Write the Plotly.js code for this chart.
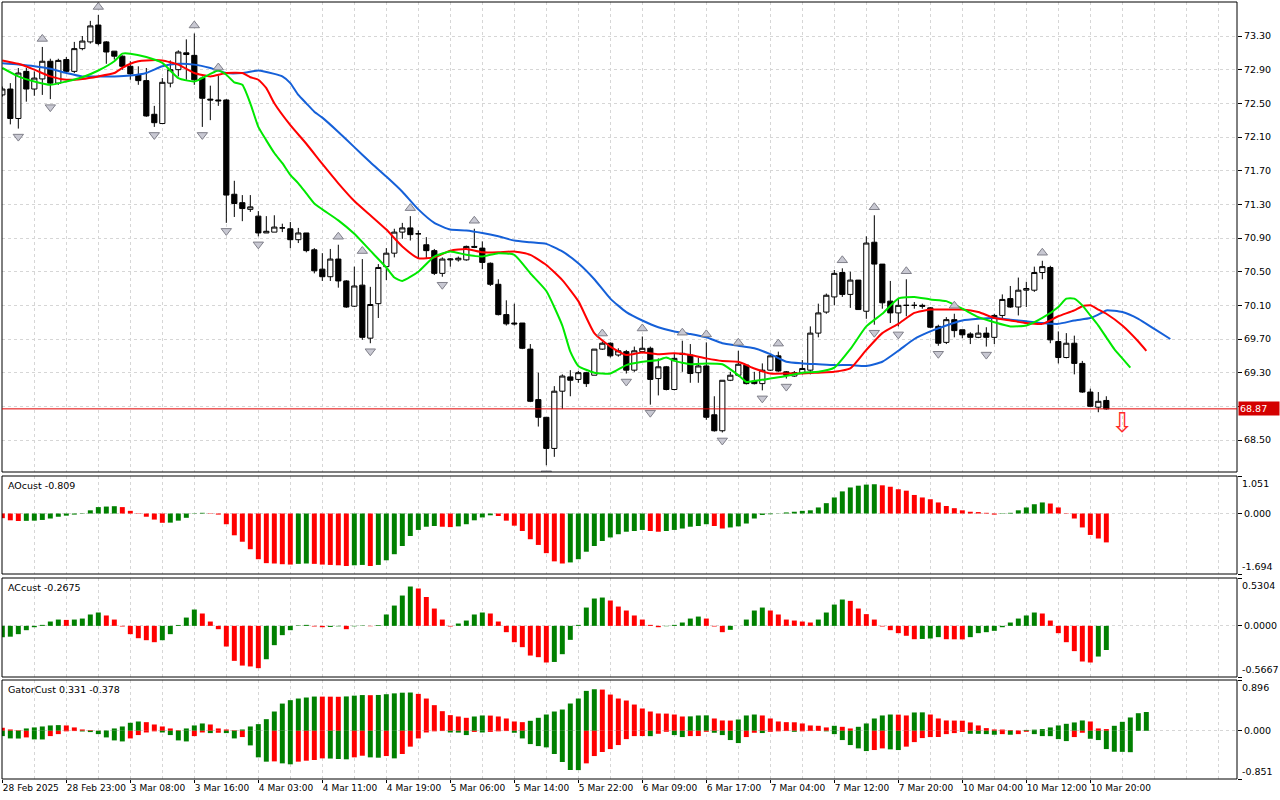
<!DOCTYPE html>
<html>
<head>
<meta charset="utf-8">
<title>Alligator / AO / AC / Gator</title>
<script src="https://cdn.plot.ly/plotly-3.0.1.min.js"></script>
<style>
  html, body { margin: 0; padding: 0; background: #fff; }
  #chart { width: 1280px; height: 800px; }
</style>
</head>
<body>
<div id="chart"></div>
<script>
// hourly bars, bar 0 is the first (half hidden) candle on 28 Feb 2025
const openP = [72.60,72.67,72.32,72.88,72.67,72.79,73.00,72.74,73.02,72.88,
  73.15,73.23,73.43,73.23,73.12,73.06,72.94,72.84,72.77,72.37,
  72.26,72.74,72.90,73.10,73.07,72.80,72.55,72.54,72.54,71.42,
  71.32,71.24,71.16,70.96,70.97,71.02,71.01,70.88,70.96,70.76,
  70.53,70.44,70.65,70.39,70.09,70.34,69.71,70.12,70.56,70.72,
  70.97,71.02,70.95,70.82,70.75,70.48,70.64,70.64,70.64,70.80,
  70.78,70.60,70.35,69.99,69.89,69.89,69.58,68.98,68.77,68.40,
  69.08,69.25,69.22,69.30,69.27,69.58,69.65,69.51,69.55,69.33,
  69.55,69.59,69.23,69.37,69.10,69.53,69.51,69.30,69.38,68.80,
  68.61,69.21,69.27,69.39,69.20,69.17,69.33,69.50,69.31,69.26,
  69.30,69.33,69.77,70.02,70.20,70.49,70.23,70.40,70.03,70.85,
  70.59,70.15,70.01,70.10,70.10,70.10,70.07,69.85,69.66,69.93,
  69.81,69.76,69.72,69.77,69.72,69.98,70.18,70.08,70.28,70.28,
  70.49,70.55,69.67,69.48,69.65,69.41,69.07,68.89,68.97];
const highP = [72.70,72.74,72.92,72.92,72.88,73.17,73.03,73.03,73.05,73.23,
  73.30,73.48,73.55,73.24,73.12,73.07,73.00,72.94,72.92,72.47,
  72.80,73.01,73.13,73.26,73.33,72.82,72.71,72.83,72.55,71.58,
  71.41,71.41,71.22,71.16,71.17,71.07,71.09,71.02,70.96,70.78,
  70.72,70.77,70.82,70.40,70.56,70.65,70.32,70.59,70.78,71.01,
  71.08,71.16,70.99,70.91,70.77,70.67,70.66,70.68,70.81,71.01,
  70.86,70.61,70.41,70.16,70.12,69.89,69.64,69.30,68.77,69.14,
  69.28,69.33,69.32,69.31,69.58,69.67,69.66,69.59,69.57,69.61,
  69.73,69.61,69.47,69.38,69.53,69.68,69.64,69.48,69.66,69.02,
  69.21,69.31,69.56,69.40,69.31,69.41,69.51,69.55,69.32,69.32,
  69.45,69.85,70.12,70.24,70.52,70.54,70.50,70.40,70.92,71.17,
  70.59,70.39,70.19,70.41,70.14,70.12,70.08,69.87,69.96,70.00,
  69.81,69.78,69.87,69.84,70.00,70.23,70.33,70.43,70.38,70.56,
  70.63,70.57,69.79,69.77,69.74,69.44,69.11,69.07,69.02];
const lowP = [72.58,72.25,72.20,72.52,72.59,72.60,72.55,72.72,72.86,72.86,
  73.13,73.21,73.19,72.97,73.02,72.90,72.78,72.72,72.34,72.22,
  72.26,72.69,72.82,72.78,72.72,72.22,72.30,72.47,71.08,71.15,
  71.10,71.21,70.92,70.96,70.97,70.97,70.78,70.84,70.73,70.48,
  70.39,70.39,70.31,70.07,70.08,69.69,69.65,69.95,70.40,70.67,
  70.89,70.87,70.65,70.65,70.46,70.44,70.56,70.62,70.63,70.78,
  70.53,70.33,69.98,69.86,69.86,69.58,68.95,68.66,68.20,68.30,
  68.87,69.02,69.18,69.13,69.27,69.57,69.48,69.49,69.29,69.31,
  69.53,68.92,69.03,69.09,69.09,69.31,69.18,69.18,68.74,68.60,
  68.59,69.20,69.25,69.16,69.16,69.09,69.32,69.31,69.23,69.25,
  69.28,69.28,69.72,70.00,70.10,70.20,70.07,70.05,69.94,69.87,
  70.06,69.89,69.85,69.97,70.06,70.06,69.83,69.62,69.64,69.72,
  69.71,69.64,69.71,69.61,69.64,69.93,70.07,69.98,70.08,70.26,
  70.41,69.65,69.41,69.47,69.28,69.06,68.89,68.83,68.86];
const closeP = [72.67,72.32,72.86,72.67,72.80,73.00,72.74,73.01,72.88,73.15,
  73.24,73.42,73.21,73.11,73.06,72.94,72.85,72.77,72.35,72.27,
  72.75,72.90,73.11,73.08,72.78,72.56,72.54,72.53,71.41,71.31,
  71.25,71.27,70.96,70.98,71.03,71.02,70.88,70.96,70.75,70.51,
  70.44,70.65,70.39,70.08,70.33,69.72,70.11,70.55,70.72,70.97,
  71.02,70.94,70.95,70.75,70.48,70.65,70.65,70.66,70.80,70.79,
  70.61,70.35,69.99,69.88,69.88,69.59,68.96,68.77,68.40,69.08,
  69.26,69.21,69.30,69.17,69.58,69.65,69.50,69.56,69.33,69.56,
  69.59,69.22,69.37,69.10,69.47,69.52,69.29,69.38,68.77,68.61,
  69.21,69.27,69.40,69.17,69.17,69.33,69.50,69.32,69.27,69.30,
  69.35,69.77,70.01,70.22,70.48,70.23,70.40,70.05,70.84,70.59,
  70.13,70.01,70.10,70.10,70.10,70.09,69.84,69.65,69.93,69.80,
  69.75,69.72,69.77,69.72,69.98,70.17,70.08,70.28,70.30,70.49,
  70.56,69.69,69.48,69.65,69.41,69.07,68.90,68.96,68.87];

// alligator lines (already shifted forward, so they run past the last bar)
const jawBars = [0,2,4,6,8,10,12,14,16,18,20,22,24,26,28,30,32,34,
  35,36,37,38,39,
  40,42,44,46,48,50,52,54,56,58,60,62,64,66,68,70,72,74,76,78,80,82,84,86,88,
  90,92,94,96,98,100,102,104,106,108,110,112,114,116,118,120,122,124,126,128,
  130,132,134,136,137,138,140,142,144,146];
const jawVals = [72.975,72.96,72.94,72.91,72.86,72.82,72.82,72.82,72.83,72.86,72.94,72.97,72.96,72.92,72.86,72.86,72.89,72.85,
  72.82,72.74,72.60,72.50,72.40,
  72.33,72.16,71.98,71.80,71.63,71.45,71.24,71.08,71.00,70.99,70.96,70.92,70.87,70.85,70.83,70.74,70.60,70.41,70.18,70.02,69.92,69.84,69.79,69.76,69.72,
  69.65,69.62,69.59,69.52,69.43,69.41,69.40,69.39,69.39,69.38,69.43,69.56,69.70,69.79,69.86,69.92,69.94,69.95,69.93,69.91,
  69.89,69.88,69.92,69.95,69.99,70.04,70.02,69.94,69.82,69.70];
const teethBars = [0,2,4,6,8,10,12,14,15,16,17,18,20,22,24,26,28,30,31,32,33,34,
  36,38,40,42,44,46,48,50,52,54,56,58,60,62,64,66,68,70,72,74,76,78,80,82,84,
  86,88,90,92,94,96,98,100,102,104,106,108,110,112,114,116,118,120,122,124,126,128,130,132,134,
  135,136,137,138,140,142,143];
const teethVals = [73.01,72.97,72.90,72.82,72.78,72.79,72.82,72.86,72.92,72.97,73.00,73.01,73.01,72.96,72.86,72.82,72.86,72.86,72.81,72.78,72.68,72.50,
  72.24,72.02,71.78,71.55,71.34,71.17,71.00,70.80,70.66,70.67,70.75,70.77,70.73,70.73,70.74,70.70,70.58,70.40,70.15,69.77,69.61,69.51,69.54,69.52,69.53,
  69.51,69.47,69.44,69.43,69.35,69.29,69.29,69.29,69.30,69.31,69.35,69.57,69.77,69.88,70.01,70.05,70.05,70.05,70.02,69.95,69.92,69.89,69.88,69.97,70.04,
  70.09,70.10,70.05,70.00,69.86,69.67,69.56];
const lipsBars = [0,2,4,6,8,10,12,14,15,16,18,20,22,24,26,
  27,28,29,30,31,32,33,34,35,36,37,38,39,40,
  42,44,46,48,49,50,52,54,56,58,60,62,64,66,68,70,71,72,74,76,78,80,82,83,84,
  86,88,90,92,93,94,96,98,100,102,104,106,108,110,112,114,116,118,120,122,124,126,128,130,132,
  133,134,135,136,137,138,139,140,141];
const lipsVals = [72.92,72.82,72.76,72.72,72.76,72.81,72.89,73.00,73.09,73.09,73.05,72.98,72.80,72.76,72.85,
  72.89,72.84,72.75,72.72,72.50,72.22,72.06,71.91,71.79,71.65,71.55,71.43,71.31,71.24,
  71.11,70.95,70.75,70.55,70.43,70.39,70.50,70.68,70.74,70.70,70.68,70.72,70.70,70.48,70.27,69.86,69.55,69.38,69.30,69.29,69.39,69.43,69.45,69.48,69.44,
  69.40,69.41,69.40,69.27,69.19,69.20,69.23,69.26,69.30,69.31,69.36,69.58,69.85,70.00,70.18,70.20,70.17,70.15,70.06,69.96,69.90,69.85,69.86,69.95,70.08,
  70.18,70.18,70.10,69.98,69.86,69.72,69.58,69.47,69.36];

// Bill Williams fractals (bar numbers)
const fractalUpBars = [5,12,24,27,42,45,51,59,75,80,85,88,92,97,105,109,113,119,130];
const fractalDownBars = [2,6,19,25,28,32,46,55,68,78,81,90,95,98,109,112,117,123];

const lastPrice = 68.87;
const signalBar = 140;
const signalPrice = 68.71;

// Awesome oscillator
const aoPrev = -0.10;
const aoVals = [-0.13,-0.19,-0.21,-0.205,-0.20,-0.18,-0.14,-0.09,-0.06,-0.03,
  -0.01,0.09,0.18,0.195,0.205,0.18,0.075,0.01,-0.09,-0.17,
  -0.26,-0.255,-0.20,-0.12,-0.01,0.02,-0.01,-0.03,-0.30,-0.61,
  -0.79,-1.00,-1.28,-1.39,-1.40,-1.42,-1.43,-1.41,-1.40,-1.41,
  -1.43,-1.44,-1.45,-1.47,-1.45,-1.44,-1.47,-1.44,-1.31,-1.14,
  -0.91,-0.63,-0.46,-0.37,-0.35,-0.37,-0.38,-0.36,-0.30,-0.19,
  -0.11,-0.05,-0.07,-0.20,-0.34,-0.49,-0.72,-0.88,-1.11,-1.34,
  -1.40,-1.37,-1.28,-1.07,-0.91,-0.77,-0.67,-0.58,-0.51,-0.49,
  -0.46,-0.49,-0.51,-0.49,-0.46,-0.42,-0.37,-0.35,-0.30,-0.35,
  -0.42,-0.39,-0.36,-0.28,-0.14,-0.04,-0.02,0.005,0.03,0.05,
  0.075,0.09,0.17,0.29,0.45,0.62,0.73,0.78,0.81,0.82,
  0.79,0.75,0.68,0.64,0.52,0.45,0.40,0.31,0.21,0.15,
  0.09,0.05,0.04,0.02,-0.03,-0.01,0.02,0.09,0.17,0.26,
  0.31,0.28,0.17,0.01,-0.14,-0.39,-0.60,-0.70,-0.809];

// Accelerator oscillator
const acPrev = -0.15;
const acVals = [-0.126,-0.12,-0.092,-0.048,-0.015,0.011,0.048,0.07,0.066,0.07,
  0.081,0.126,0.148,0.115,0.07,-0.007,-0.092,-0.137,-0.159,-0.181,
  -0.159,-0.092,0.01,0.092,0.181,0.137,0.048,-0.037,-0.229,-0.388,
  -0.44,-0.45,-0.469,-0.37,-0.214,-0.103,-0.048,0.005,0.011,-0.007,
  -0.015,-0.012,-0.005,-0.037,-0.005,0.004,-0.004,0.008,0.126,0.225,
  0.336,0.436,0.414,0.32,0.192,0.07,-0.007,0.026,0.059,0.126,
  0.148,0.137,0.048,-0.07,-0.181,-0.236,-0.329,-0.347,-0.406,-0.40,
  -0.314,-0.155,0.011,0.203,0.303,0.314,0.281,0.214,0.17,0.115,
  0.07,0.011,-0.015,-0.004,0.011,0.037,0.081,0.103,0.081,-0.007,
  -0.07,-0.044,0.0,0.07,0.17,0.203,0.17,0.126,0.07,0.059,
  0.048,0.037,0.07,0.148,0.236,0.292,0.277,0.192,0.13,0.07,
  -0.007,-0.048,-0.081,-0.11,-0.148,-0.145,-0.14,-0.125,-0.148,-0.149,
  -0.15,-0.125,-0.081,-0.07,-0.055,-0.015,0.037,0.081,0.115,0.148,
  0.137,0.059,-0.081,-0.181,-0.28,-0.395,-0.406,-0.34,-0.2675];

// Gator oscillator, upper = |jaw - teeth|, lower = -|teeth - lips|
const gatorUpPrev = 0.07;
const gatorUp = [0.053,0.023,0.010,0.041,0.059,0.076,0.094,0.100,0.094,0.059,
  0.023,0.012,0.003,0.006,0.041,0.076,0.141,0.164,0.152,0.111,
  0.076,0.041,0.010,0.041,0.094,0.129,0.111,0.041,0.023,0.010,
  0.023,0.076,0.117,0.205,0.340,0.480,0.540,0.569,0.587,0.604,
  0.603,0.602,0.600,0.606,0.620,0.630,0.628,0.632,0.645,0.660,
  0.672,0.675,0.651,0.569,0.452,0.346,0.276,0.252,0.229,0.252,
  0.270,0.268,0.252,0.217,0.164,0.152,0.176,0.229,0.287,0.340,
  0.375,0.481,0.569,0.704,0.733,0.727,0.639,0.569,0.534,0.463,
  0.393,0.340,0.305,0.303,0.287,0.252,0.254,0.270,0.272,0.217,
  0.182,0.180,0.199,0.270,0.287,0.270,0.217,0.164,0.152,0.150,
  0.129,0.094,0.088,0.059,0.088,0.070,0.041,0.070,0.129,0.217,
  0.270,0.287,0.285,0.270,0.323,0.325,0.287,0.217,0.182,0.180,
  0.178,0.147,0.094,0.047,0.023,0.022,0.012,0.006,0.015,0.020,
  0.030,0.059,0.094,0.123,0.147,0.182,0.164,0.041,0.030,0.088,
  0.158,0.235,0.310,0.331];
const gatorDownPrev = -0.08;
const gatorDown = [-0.094,-0.135,-0.137,-0.117,-0.152,-0.153,-0.094,-0.059,-0.010,-0.005,
  -0.012,-0.023,-0.059,-0.117,-0.170,-0.188,-0.135,-0.076,-0.030,-0.010,
  -0.030,-0.076,-0.170,-0.188,-0.094,-0.030,-0.041,-0.035,-0.041,-0.135,
  -0.111,-0.258,-0.469,-0.545,-0.540,-0.575,-0.592,-0.545,-0.528,-0.516,
  -0.487,-0.490,-0.498,-0.504,-0.469,-0.440,-0.469,-0.475,-0.446,-0.487,
  -0.410,-0.280,-0.135,-0.030,-0.010,-0.005,-0.030,-0.032,-0.076,-0.020,
  -0.030,-0.020,-0.010,-0.005,-0.035,-0.135,-0.235,-0.270,-0.293,-0.410,
  -0.551,-0.692,-0.694,-0.575,-0.446,-0.375,-0.323,-0.252,-0.147,-0.094,
  -0.093,-0.095,-0.053,-0.018,-0.076,-0.111,-0.094,-0.093,-0.018,-0.035,
  -0.076,-0.164,-0.217,-0.111,-0.035,-0.040,-0.018,-0.010,-0.005,-0.018,
  -0.010,-0.005,-0.003,-0.010,-0.059,-0.164,-0.252,-0.311,-0.358,-0.340,
  -0.311,-0.328,-0.340,-0.280,-0.200,-0.129,-0.111,-0.110,-0.059,-0.041,
  -0.020,-0.053,-0.054,-0.059,-0.070,-0.059,-0.070,-0.059,-0.018,-0.059,
  -0.094,-0.095,-0.147,-0.182,-0.111,-0.035,-0.141,-0.164,-0.323,-0.370,
  -0.372,-0.378];

// axis labels
const timeLabels = ['28 Feb 2025','28 Feb 23:00','3 Mar 08:00','3 Mar 16:00','4 Mar 03:00','4 Mar 11:00',
  '4 Mar 19:00','5 Mar 06:00','5 Mar 14:00','5 Mar 22:00','6 Mar 09:00','6 Mar 17:00',
  '7 Mar 04:00','7 Mar 12:00','7 Mar 20:00','10 Mar 04:00','10 Mar 12:00','10 Mar 20:00'];
const timeLabelBars = timeLabels.map((t, i) => i * 8);
const priceTicks = [68.50,68.90,69.30,69.70,70.10,70.50,70.90,71.30,71.70,72.10,72.50,72.90,73.30];
const priceRange = [68.12, 73.704];
const aoScale = [-1.694, 1.051];
const acScale = [-0.5667, 0.5304];
const gatorScale = [-0.851, 0.896];

// ---------------------------------------------------------------
const GREEN = '#008000';
const RED = '#ff0000';
const GRID = '#d6d6d6';
const FONT = 'DejaVu Sans, Verdana, sans-serif';

const W = 1280, H = 800, T = 2, B = 21, L = 2, R = 43;
const plotH = H - T - B;
function dom(topPx, botPx) {
  return [(H - B - botPx) / plotH, (H - B - topPx) / plotH];
}
const mainDom = dom(2, 472);
const aoDom = dom(476, 574);
const acDom = dom(578, 677);
const gatorDom = dom(680, 779);

function upDown(vals, prev, useAbs) {
  let p = prev, c = GREEN;
  return vals.map(v => {
    const a = useAbs ? Math.abs(v) : v;
    const b = useAbs ? Math.abs(p) : p;
    if (a > b) c = GREEN; else if (a < b) c = RED;
    p = v;
    return c;
  });
}

const barIdx = openP.map((v, i) => i);
const pxPerPrice = (mainDom[1] - mainDom[0]) * plotH / (priceRange[1] - priceRange[0]);
const fracPad = 8 / pxPerPrice;

var candles = {
  type: 'candlestick', x: barIdx, open: openP, high: highP, low: lowP, close: closeP,
  xaxis: 'x', yaxis: 'y', hoverinfo: 'skip',
  increasing: {line: {color: '#000', width: 1}, fillcolor: '#fff'},
  decreasing: {line: {color: '#000', width: 1}, fillcolor: '#000'}
};

function alligatorLine(xs, ys, color) {
  return {type: 'scatter', mode: 'lines', x: xs, y: ys, xaxis: 'x', yaxis: 'y',
    line: {color: color, width: 2, shape: 'spline', smoothing: 0.5}, hoverinfo: 'skip'};
}

var fracUp = {
  type: 'scatter', mode: 'markers', xaxis: 'x', yaxis: 'y', hoverinfo: 'skip',
  x: fractalUpBars, y: fractalUpBars.map(i => highP[i] + fracPad),
  marker: {symbol: 'triangle-up', size: 9, color: '#c8c8d2', line: {color: '#80808a', width: 1}}
};
var fracDown = {
  type: 'scatter', mode: 'markers', xaxis: 'x', yaxis: 'y', hoverinfo: 'skip',
  x: fractalDownBars, y: fractalDownBars.map(i => lowP[i] - fracPad),
  marker: {symbol: 'triangle-down', size: 9, color: '#c8c8d2', line: {color: '#80808a', width: 1}}
};

function histo(vals, colors, yaxis) {
  return {type: 'bar', x: vals.map((v, i) => i), y: vals, xaxis: 'x', yaxis: yaxis,
    width: 0.62, marker: {color: colors, line: {width: 0}}, hoverinfo: 'skip'};
}

var data = [
  candles,
  alligatorLine(jawBars, jawVals, '#1560d8'),
  alligatorLine(teethBars, teethVals, '#ff0000'),
  alligatorLine(lipsBars, lipsVals, '#00e800'),
  fracUp, fracDown,
  histo(aoVals, upDown(aoVals, aoPrev, false), 'y2'),
  histo(acVals, upDown(acVals, acPrev, false), 'y3'),
  histo(gatorUp, upDown(gatorUp, gatorUpPrev, true), 'y4'),
  histo(gatorDown, upDown(gatorDown, gatorDownPrev, true), 'y4')
];

function subAxis(domain, scale, zeroText) {
  return {
    domain: domain, range: scale, anchor: 'x', side: 'right',
    tickmode: 'array', tickvals: [scale[0], 0, scale[1]], ticktext: ['', zeroText, ''],
    ticks: 'outside', ticklen: 4, tickcolor: '#000',
    showgrid: true, gridcolor: GRID, griddash: '3px,3px', gridwidth: 1,
    zeroline: false, showline: false, fixedrange: true
  };
}

function scaleNote(yref, scale, digits) {
  const base = {xref: 'paper', x: 1, xanchor: 'left', xshift: 3, yref: yref,
    showarrow: false, font: {family: FONT, size: 9.5, color: '#000'}};
  return [
    Object.assign({}, base, {y: scale[1], yanchor: 'top', text: scale[1].toFixed(digits)}),
    Object.assign({}, base, {y: scale[0], yanchor: 'bottom', text: scale[0].toFixed(digits)})
  ];
}

function panelNote(domain, text) {
  return {xref: 'paper', yref: 'paper', x: 0, y: domain[1], xanchor: 'left', yanchor: 'top',
    xshift: 4, yshift: -2, text: text, showarrow: false,
    font: {family: FONT, size: 9.5, color: '#000'}};
}

var shapes = [mainDom, aoDom, acDom, gatorDom].map(d => ({
  type: 'rect', xref: 'paper', yref: 'paper', x0: 0, x1: 1, y0: d[0], y1: d[1],
  line: {color: '#000', width: 1}, fillcolor: 'rgba(0,0,0,0)', layer: 'above'
}));
shapes.push({type: 'line', xref: 'paper', x0: 0, x1: 1, yref: 'y', y0: lastPrice, y1: lastPrice,
  line: {color: '#e00000', width: 1}, layer: 'above'});

var annotations = [
  {xref: 'paper', x: 1, xanchor: 'left', xshift: 1, yref: 'y', y: lastPrice, yanchor: 'middle',
    text: lastPrice.toFixed(2), showarrow: false, bgcolor: '#d40000', width: 38, align: 'left',
    borderpad: 1, font: {family: FONT, size: 9.5, color: '#fff'}},
  {xref: 'x', x: signalBar, yref: 'y', y: signalPrice, text: '\u21E9', showarrow: false,
    font: {family: 'DejaVu Sans', size: 27, color: '#ff2a2a'}},
  panelNote(aoDom, 'AOcust ' + aoVals[aoVals.length - 1].toFixed(3)),
  panelNote(acDom, 'ACcust ' + acVals[acVals.length - 1].toFixed(4)),
  panelNote(gatorDom, 'GatorCust ' + gatorUp[gatorUp.length - 1].toFixed(3) + ' ' +
    gatorDown[gatorDown.length - 1].toFixed(3))
].concat(scaleNote('y2', aoScale, 3), scaleNote('y3', acScale, 4), scaleNote('y4', gatorScale, 3));

var layout = {
  width: W, height: H,
  margin: {l: L, r: R, t: T, b: B, pad: 0},
  paper_bgcolor: '#fff', plot_bgcolor: '#fff',
  showlegend: false, hovermode: false,
  barmode: 'overlay', boxgap: 0.35, boxgroupgap: 0,
  font: {family: FONT, size: 9.5, color: '#000'},
  xaxis: {
    range: [-0.04, 154.335], anchor: 'y4', fixedrange: true,
    tickmode: 'array', tickvals: timeLabelBars, ticktext: timeLabels,
    ticks: 'outside', ticklen: 3, tickcolor: '#000', tickangle: 0,
    ticklabelposition: 'outside right',
    tickfont: {family: FONT, size: 9, color: '#000'},
    showgrid: true, gridcolor: GRID, griddash: '3px,3px', gridwidth: 1,
    minor: {tickmode: 'linear', tick0: 0, dtick: 4, showgrid: true, gridcolor: GRID,
      griddash: '3px,3px', gridwidth: 1, ticks: ''},
    zeroline: false, showline: false,
    rangeslider: {visible: false}
  },
  yaxis: {
    domain: mainDom, range: priceRange, anchor: 'x', side: 'right',
    tickmode: 'array', tickvals: priceTicks,
    // the 68.90 label sits under the last-price box, as in the terminal
    ticktext: priceTicks.map(v => Math.abs(v - lastPrice) < 0.1 ? '' : v.toFixed(2)),
    ticks: 'outside', ticklen: 4, tickcolor: '#000',
    showgrid: true, gridcolor: GRID, griddash: '3px,3px', gridwidth: 1,
    zeroline: false, showline: false, fixedrange: true
  },
  yaxis2: subAxis(aoDom, aoScale, '0.000'),
  yaxis3: subAxis(acDom, acScale, '0.0000'),
  yaxis4: subAxis(gatorDom, gatorScale, '0.000'),
  shapes: shapes,
  annotations: annotations
};

window.addEventListener('load', () => {
  Plotly.newPlot('chart', data, layout, {displayModeBar: false, staticPlot: true});
});
</script>
</body>
</html>
